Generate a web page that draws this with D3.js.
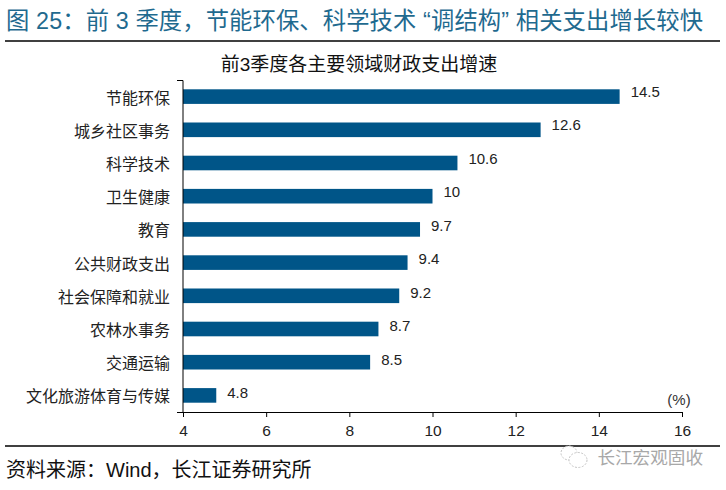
<!DOCTYPE html>
<html>
<head>
<meta charset="utf-8">
<script src="https://cdn.jsdelivr.net/npm/d3@7"></script>
<style>
body { margin: 0; background: #fff; }
text { font-family: "Liberation Sans", "Noto Sans CJK SC", sans-serif; }
</style>
</head>
<body>
<svg id="chart"></svg>
<script>
const categories = ["节能环保", "城乡社区事务", "科学技术", "卫生健康", "教育", "公共财政支出", "社会保障和就业", "农林水事务", "交通运输", "文化旅游体育与传媒"];
const growth = [14.5, 12.6, 10.6, 10, 9.7, 9.4, 9.2, 8.7, 8.5, 4.8];
const xTicks = [4, 6, 8, 10, 12, 14, 16];

const svgWidth = 726;
const svgHeight = 490;
const barColor = "#005588";
const axisY = 412;

const svg = d3.select("#chart")
    .attr("width", svgWidth)
    .attr("height", svgHeight);

const x = d3.scaleLinear().domain([4, 16]).range([183, 682]);
const y = d3.scaleBand().domain(categories).range([80, axisY]).paddingInner(0.56).paddingOuter(0.28);
// value labels sit on a slightly wider spacing than the bars
const labelY = d3.scalePoint().domain(categories).range([97, 398]);

// header and rules
svg.append("text")
    .attr("x", 6).attr("y", 29)
    .attr("font-size", 23.3).attr("fill", "#1f6a8f")
    .attr("textLength", 697)
    .text("图 25：前 3 季度，节能环保、科学技术 “调结构” 相关支出增长较快");

svg.append("line").attr("x1", 5).attr("x2", 720).attr("y1", 41).attr("y2", 41)
    .attr("stroke", "#000").attr("stroke-width", 1.5);
svg.append("line").attr("x1", 5).attr("x2", 720).attr("y1", 446).attr("y2", 446)
    .attr("stroke", "#000").attr("stroke-width", 1.5);

svg.append("text")
    .attr("x", 359).attr("y", 71)
    .attr("text-anchor", "middle")
    .attr("font-size", 19).attr("fill", "#111")
    .text("前3季度各主要领域财政支出增速");

// bars
svg.selectAll("rect.bar")
    .data(growth)
    .enter().append("rect")
    .attr("class", "bar")
    .attr("x", x(4))
    .attr("y", (d, i) => y(categories[i]))
    .attr("width", d => x(d) - x(4))
    .attr("height", y.bandwidth())
    .attr("fill", barColor);

svg.selectAll("text.value")
    .data(growth)
    .enter().append("text")
    .attr("class", "value")
    .attr("x", d => x(d) + 11)
    .attr("y", (d, i) => labelY(categories[i]))
    .attr("font-size", 15).attr("fill", "#222")
    .text(d => d);

svg.selectAll("text.cat")
    .data(categories)
    .enter().append("text")
    .attr("class", "cat")
    .attr("x", 170)
    .attr("y", d => y(d) + y.bandwidth() / 2 + 7)
    .attr("text-anchor", "end")
    .attr("font-size", 16).attr("fill", "#222")
    .text(d => d);

// axes
const xAxis = svg.append("g")
    .attr("transform", `translate(0,${axisY})`)
    .call(d3.axisBottom(x).tickValues(xTicks).tickSize(5).tickSizeOuter(0).tickPadding(8));
xAxis.selectAll("line").attr("stroke", "#000");
xAxis.select(".domain").attr("stroke", "#000").attr("d", `M177,0.5H${x(16)}`);
xAxis.selectAll("text").attr("font-size", 15.5).attr("fill", "#222");

// y axis with end ticks only
svg.append("path")
    .attr("d", `M177,80.5H${x(4)}V${axisY}`)
    .attr("fill", "none")
    .attr("stroke", "#000");

svg.append("text")
    .attr("x", 679).attr("y", 405)
    .attr("text-anchor", "middle")
    .attr("font-size", 15).attr("fill", "#333")
    .text("(%)");

// footer
svg.append("text")
    .attr("x", 6).attr("y", 477)
    .attr("font-size", 20).attr("fill", "#111")
    .text("资料来源：Wind，长江证券研究所");

// watermark
const mark = svg.append("g")
    .attr("fill", "#fff")
    .attr("stroke", "#c4c4c4")
    .attr("stroke-width", 1)
    .attr("stroke-dasharray", "2 1.5");
mark.append("ellipse").attr("cx", 569).attr("cy", 453).attr("rx", 8).attr("ry", 7);
mark.append("ellipse").attr("cx", 578).attr("cy", 460).attr("rx", 9).attr("ry", 7.5);

svg.append("text")
    .attr("x", 703).attr("y", 464)
    .attr("text-anchor", "end")
    .attr("font-size", 17.6).attr("fill", "#a8a8a8")
    .text("长江宏观固收");
</script>
</body>
</html>
